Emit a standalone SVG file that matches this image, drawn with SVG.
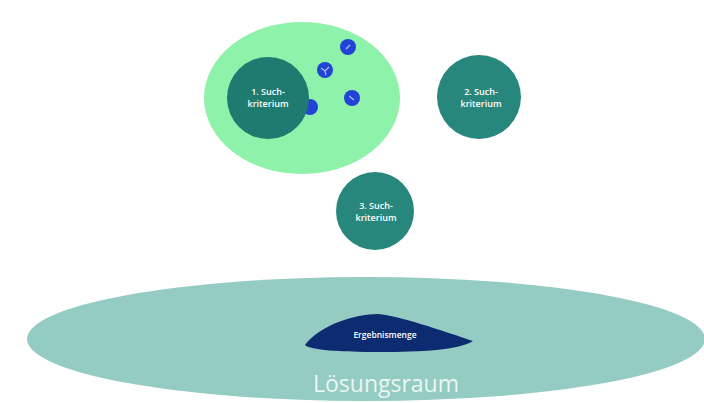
<svg xmlns="http://www.w3.org/2000/svg" width="704" height="403" viewBox="0 0 704 403">
<style>
.crit{fill:#1f7a70}
.crit2{fill:#28877c}
.lbl{font-family:"Open Sans","Liberation Sans",sans-serif;font-size:9px;font-weight:600;fill:#ffffff;text-anchor:middle}
.dot{fill:#2244d6}
.mark{stroke:#a8c0ff;stroke-width:1.2;fill:none}
</style>
<rect width="704" height="403" fill="#ffffff"/>
<g id="loesungsraum">
<ellipse cx="366" cy="339" rx="339" ry="62" fill="#94cbc2"/>
<text x="386" y="392" font-family="'Open Sans','Liberation Sans',sans-serif" font-size="23" fill="#eaf7f5" text-anchor="middle">Lösungsraum</text>
</g>
<g id="ergebnismenge">
<path d="M305,345 C320,325 355,314 378,314 C400,316 440,330 473,341 C460,350 420,352 380,352 C340,352 310,350 305,345 Z" fill="#0d2b70"/>
<text x="385" y="338" class="lbl" style="font-size:8.5px">Ergebnismenge</text>
</g>
<g id="suchbereich">
<ellipse cx="302" cy="98" rx="98" ry="76" fill="#8ff2ab"/>
</g>
<g id="punkte">
<circle class="dot" cx="310" cy="107" r="8"/>
<circle class="dot" cx="348" cy="47" r="8"/>
<path class="mark" d="M346,49 L350,45"/>
<circle class="dot" cx="325" cy="70" r="8"/>
<path class="mark" d="M321,68 L325,71 L329,67 M325,71 L326,75"/>
<circle class="dot" cx="352" cy="98" r="8"/>
<path class="mark" d="M349,96 L354,100"/>
</g>
<g id="kriterium1">
<circle class="crit" cx="268" cy="98" r="41"/>
<text class="lbl" x="268" y="95">1. Such-</text>
<text class="lbl" x="268" y="107">kriterium</text>
</g>
<g id="kriterium2">
<circle class="crit2" cx="479" cy="97" r="42"/>
<text class="lbl" x="481" y="95">2. Such-</text>
<text class="lbl" x="481" y="107">kriterium</text>
</g>
<g id="kriterium3">
<circle class="crit2" cx="375" cy="211" r="39"/>
<text class="lbl" x="376" y="209">3. Such-</text>
<text class="lbl" x="376" y="221">kriterium</text>
</g>
</svg>
